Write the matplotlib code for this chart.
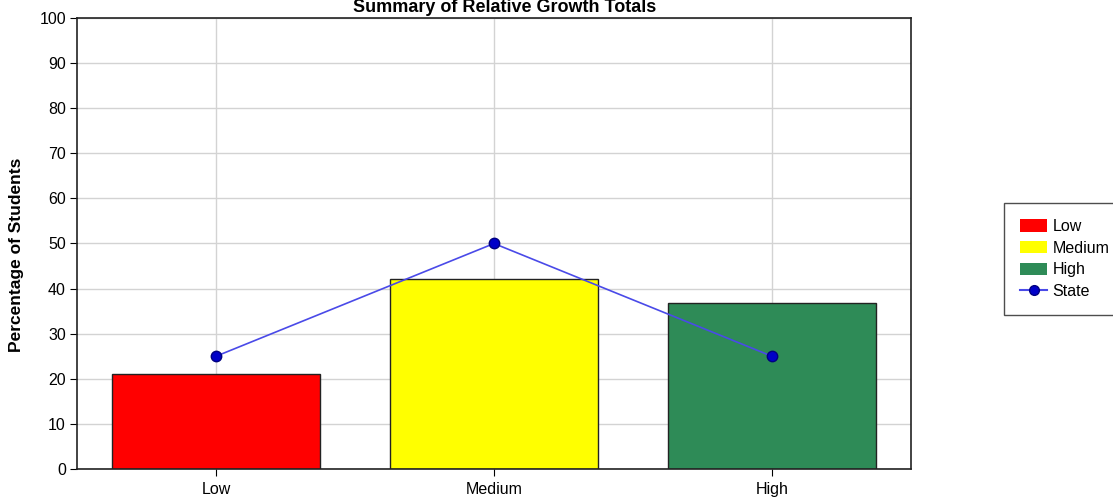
import numpy as np
import matplotlib.pyplot as plt
from matplotlib.patches import Patch
from matplotlib.lines import Line2D

plt.rcParams['font.family'] = ['Liberation Sans', 'DejaVu Sans']

categories = ['Low', 'Medium', 'High']
student_pct = [21, 42.2, 36.7]
state_pct = [25, 50, 25]
bar_colors = ['#ff0000', '#ffff00', '#2e8b57']

fig = plt.figure(figsize=(11.13, 4.98), dpi=100)
ax = fig.add_axes([0.0692, 0.0582, 0.7493, 0.9057])

x = np.arange(len(categories))
ax.bar(x, student_pct, width=0.745, color=bar_colors, edgecolor='#222222',
       linewidth=1, zorder=2)
ax.plot(x, state_pct, color='#4a4ae8', linewidth=1.2, marker='o',
        markersize=7.5, markerfacecolor='#0000c8', markeredgecolor='#000080',
        zorder=3)

ax.set_xlim(-0.5, len(categories) - 0.5)
ax.set_ylim(0, 100)
ax.set_xticks(x)
ax.set_xticklabels(categories, fontsize=11.5)
ax.set_yticks(np.arange(0, 101, 10))
ax.tick_params(axis='y', labelsize=11.5, length=5, direction='out', pad=3)
ax.tick_params(axis='x', length=5, direction='out', pad=4)
ax.grid(True, color='#d3d3d3', linewidth=1, zorder=0)
ax.set_axisbelow(True)
for s in ax.spines.values():
    s.set_color('#222222')
    s.set_linewidth(1.2)

ax.set_ylabel('Percentage of Students', fontsize=12.5, fontweight='bold')
ax.yaxis.set_label_coords(-0.0636, 0.475)
fig.text(0.453, 1 - 12 / 498, 'Summary of Relative Growth Totals',
         ha='center', va='baseline', fontsize=13, fontweight='bold')

handles = [Patch(facecolor=c, edgecolor='none') for c in bar_colors]
handles.append(Line2D([], [], color='#4a4ae8', marker='o', markersize=7,
                      markerfacecolor='#0000c8', markeredgecolor='#000080'))
leg = fig.legend(handles, categories + ['State'], loc='upper left',
                 bbox_to_anchor=(1004 / 1113, 1 - 203 / 498), fontsize=11.5,
                 frameon=True, fancybox=False, edgecolor='#222222',
                 handlelength=1.7, handleheight=0.8, handletextpad=0.35,
                 labelspacing=0.42, borderpad=1.0, borderaxespad=0)
leg.get_frame().set_linewidth(1)

fig.savefig('out.png', dpi=100)
